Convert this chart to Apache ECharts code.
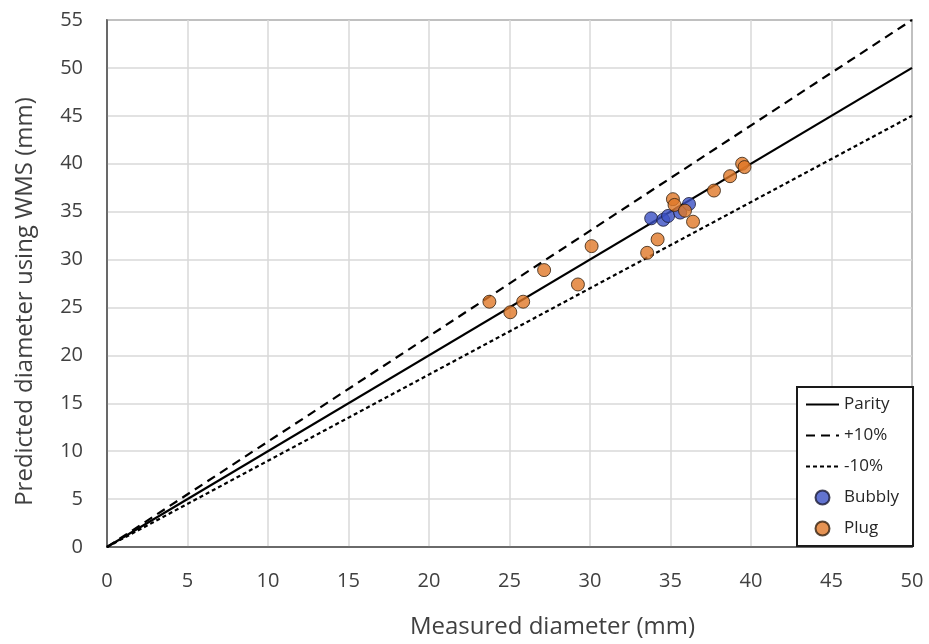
<!DOCTYPE html>
<html>
<head>
<meta charset="utf-8">
<script src="https://cdn.jsdelivr.net/npm/echarts@6/dist/echarts.min.js"></script>
<style>
  html, body { margin: 0; padding: 0; background: #fff; }
  #chart { width: 929px; height: 644px; }
</style>
</head>
<body>
<div id="chart"></div>
<script>
// Measured vs. predicted bubble diameters (mm)
const bubbly = [
  [33.8, 34.3], [34.55, 34.15], [34.85, 34.55], [35.6, 34.9], [36.15, 35.8]
];
const plug = [
  [23.75, 25.6], [25.05, 24.5], [25.85, 25.6], [27.15, 28.9], [29.25, 27.4],
  [30.1, 31.4], [33.55, 30.7], [34.2, 32.1], [35.15, 36.3], [35.25, 35.7],
  [35.9, 35.1], [36.4, 33.95], [37.7, 37.2], [38.7, 38.7], [39.45, 40.0],
  [39.6, 39.65]
];
// Reference lines y = k * x over the measured range
const lineRange = [0, 50];
const parityFactor = 1.0;
const plusFactor = 1.1;
const minusFactor = 0.9;

const xTicks = [0, 5, 10, 15, 20, 25, 30, 35, 40, 45, 50];
const yTicks = [0, 5, 10, 15, 20, 25, 30, 35, 40, 45, 50, 55];

function refLine(k) {
  return lineRange.map(x => [x, k * x]);
}

const FONT = '"Open Sans", sans-serif';
const TEXT = '#404040';
const chart = echarts.init(document.getElementById('chart'));

// line entries show only the stroke in the legend, no marker
const hideMarker = { opacity: 0 };

chart.setOption({
  animation: false,
  backgroundColor: '#ffffff',
  textStyle: { fontFamily: FONT },
  grid: {
    left: 107, right: 17, top: 20, bottom: 95,
    show: true, borderColor: '#4d4d4d', borderWidth: 1.5
  },
  xAxis: {
    type: 'value',
    min: xTicks[0], max: xTicks[xTicks.length - 1], interval: 5,
    name: 'Measured diameter (mm)',
    nameLocation: 'middle', nameGap: 68,
    nameTextStyle: { fontSize: 24, color: TEXT, fontFamily: FONT, padding: [0, 0, 0, 86] },
    axisLine: { show: true, lineStyle: { color: '#4d4d4d', width: 1.5 } },
    axisTick: { show: false },
    axisLabel: { fontSize: 20, color: TEXT, margin: 24 },
    splitLine: { show: true, lineStyle: { color: '#d9d9d9', width: 1.5 } }
  },
  yAxis: {
    type: 'value',
    min: yTicks[0], max: yTicks[yTicks.length - 1], interval: 5,
    name: 'Predicted diameter using WMS (mm)',
    nameLocation: 'middle', nameGap: 70,
    nameTextStyle: { fontSize: 24, color: TEXT, fontFamily: FONT, padding: [0, 36, 0, 0] },
    axisLine: { show: true, lineStyle: { color: '#4d4d4d', width: 1.5 } },
    axisTick: { show: false },
    axisLabel: { fontSize: 20, color: TEXT, margin: 24 },
    splitLine: { show: true, lineStyle: { color: '#d9d9d9', width: 1.5 } }
  },
  legend: {
    orient: 'vertical',
    left: 797, bottom: 98,
    padding: [9, 14, 9, 8],
    itemGap: 14,
    itemWidth: 33, itemHeight: 14,
    backgroundColor: '#ffffff',
    borderColor: '#1a1a1a', borderWidth: 2,
    textStyle: { fontSize: 17, color: '#262626', fontFamily: FONT },
    data: [
      { name: 'Parity', itemStyle: hideMarker },
      { name: '+10%', itemStyle: hideMarker },
      { name: '-10%', itemStyle: hideMarker },
      'Bubbly',
      'Plug'
    ]
  },
  series: [
    {
      name: 'Parity', type: 'line', data: refLine(parityFactor),
      symbol: 'none', z: 3,
      lineStyle: { color: '#000', width: 2.2, type: 'solid' },
      itemStyle: { color: '#000' }
    },
    {
      name: '+10%', type: 'line', data: refLine(plusFactor),
      symbol: 'none', z: 3,
      lineStyle: { color: '#000', width: 2.2, type: [9, 6] },
      itemStyle: { color: '#000' }
    },
    {
      name: '-10%', type: 'line', data: refLine(minusFactor),
      symbol: 'none', z: 3,
      lineStyle: { color: '#000', width: 2.2, type: [4, 3] },
      itemStyle: { color: '#000' }
    },
    {
      name: 'Bubbly', type: 'scatter', data: bubbly,
      symbol: 'circle', symbolSize: 13, z: 4,
      itemStyle: { color: '#3b50c4', borderColor: '#1a1a33', borderWidth: 1 }
    },
    {
      name: 'Plug', type: 'scatter', data: plug,
      symbol: 'circle', symbolSize: 13, z: 5,
      itemStyle: { color: '#e07828', borderColor: '#33200f', borderWidth: 1 }
    }
  ]
});
</script>
</body>
</html>
